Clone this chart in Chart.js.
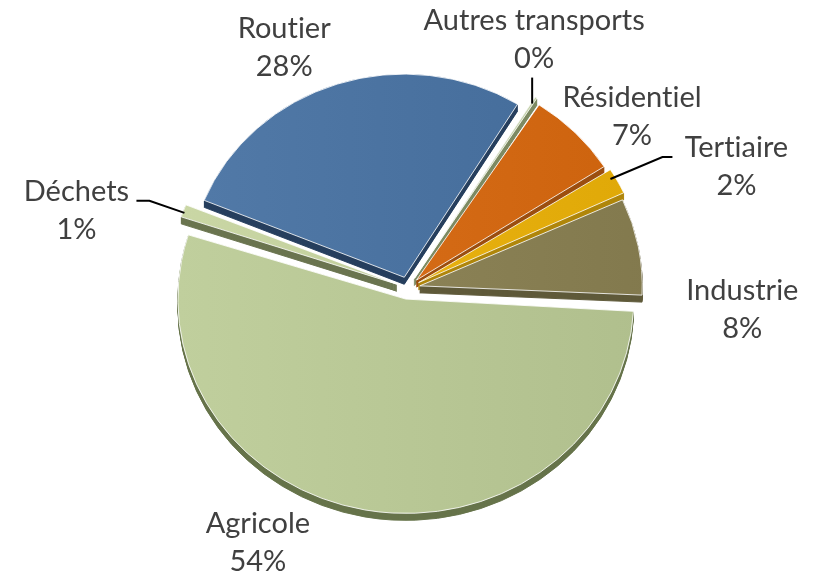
<!DOCTYPE html>
<html lang="fr">
<head>
<meta charset="utf-8">
<title>Répartition par secteur</title>
<script src="https://cdn.jsdelivr.net/npm/chart.js@4.4.1/dist/chart.umd.min.js"></script>
<style>
  html, body { margin: 0; padding: 0; background: #fff; }
  #wrap { width: 817px; height: 577px; position: relative; }
</style>
</head>
<body>
<div id="wrap"><canvas id="myChart"></canvas></div>
<script>
// data, clockwise from the top
const categories = ['Autres transports', 'Résidentiel', 'Tertiaire', 'Industrie', 'Agricole', 'Déchets', 'Routier'];
const shares = [0.4, 6.8, 2.2, 7.6, 54.2, 1.2, 27.6];

// styles
const topColors = ['#c6d4ab', '#d46a15', '#e7b00f', '#8a8155', '#b8c795', '#c2cf9d', '#4a72a0'];
const sideColors = ['#7d8a62', '#9c4e10', '#b0860b', '#5f5a3a', '#66744a', '#6a7550', '#263f5e'];
const TILT = 0.94;   // vertical squash of the tilted pie
const DEPTH = 7;     // thickness of the slices, px

// label placement relative to the outer middle of each slice
const labelLayout = [
  { dx: -2, dy: -68, leader: [[-4, 6], [-4, -20]] },
  { dx: 57, dy: -26 },
  { dx: 119, dy: -24, leader: [[-7, -2], [45, -24], [55, -24]] },
  { dx: 104, dy: 54 },
  { dx: -107, dy: 23 },
  { dx: -107, dy: -10, leader: [[1, 2], [-34, -10], [-47, -10]] },
  { dx: -53, dy: -46 }
];

function shade(hex, amt) {
  const n = parseInt(hex.slice(1), 16);
  const f = v => Math.max(0, Math.min(255, Math.round(v + amt)));
  return 'rgb(' + f(n >> 16) + ',' + f((n >> 8) & 255) + ',' + f(n & 255) + ')';
}

const total = shares.reduce((a, b) => a + b, 0);

const tiltPlugin = {
  id: 'tilt',
  beforeDatasetsDraw(chart) {
    const ctx = chart.ctx;
    const meta = chart.getDatasetMeta(0);
    const c = meta.data[0];
    ctx.save();
    ctx.translate(c.x, c.y);
    ctx.scale(1, TILT);
    ctx.translate(-c.x, -c.y);
    // sides of the slices, drawn under the tops
    meta.data.forEach((arc, i) => {
      const saved = arc.options;
      arc.options = Object.assign({}, saved, { backgroundColor: sideColors[i], borderColor: sideColors[i] });
      for (let d = DEPTH; d > 0; d--) {
        ctx.save();
        ctx.translate(0, d / TILT);
        arc.draw(ctx);
        ctx.restore();
      }
      arc.options = saved;
    });
  },
  afterDatasetsDraw(chart) {
    chart.ctx.restore();
  },
  afterDraw(chart) {
    const ctx = chart.ctx;
    const meta = chart.getDatasetMeta(0);
    ctx.save();
    ctx.font = '29px Lato';
    ctx.textRendering = 'optimizeSpeed';
    ctx.fillStyle = '#404040';
    ctx.textAlign = 'center';
    ctx.textBaseline = 'alphabetic';
    meta.data.forEach((arc, i) => {
      const p = arc.getProps(['x', 'y', 'startAngle', 'endAngle', 'outerRadius', 'circumference']);
      const o = (arc.options.offset || 0) / 4;
      const fix = 1 - Math.sin(Math.min(Math.PI, p.circumference));
      const r = p.outerRadius + o * fix + o;
      const mid = (p.startAngle + p.endAngle) / 2;
      const ax = p.x + Math.cos(mid) * r;
      const ay = p.y + Math.sin(mid) * r * TILT;
      const lay = labelLayout[i];
      if (lay.leader) {
        ctx.beginPath();
        ctx.strokeStyle = '#000';
        ctx.lineWidth = 2;
        lay.leader.forEach((pt, k) => {
          if (k === 0) ctx.moveTo(ax + pt[0], ay + pt[1]);
          else ctx.lineTo(ax + pt[0], ay + pt[1]);
        });
        ctx.stroke();
      }
      const pct = Math.round(shares[i] / total * 100) + '%';
      ctx.fillText(categories[i], ax + lay.dx, ay + lay.dy);
      ctx.fillText(pct, ax + lay.dx, ay + lay.dy + 38);
    });
    ctx.restore();
  }
};

const ctx = document.getElementById('myChart');

new Chart(ctx, {
  type: 'pie',
  data: {
    labels: categories,
    datasets: [{
      data: shares,
      backgroundColor: (c) => {
        const base = topColors[c.dataIndex];
        const g = c.chart.ctx.createLinearGradient(180, 0, 645, 0);
        g.addColorStop(0, shade(base, 8));
        g.addColorStop(1, shade(base, -8));
        return g;
      },
      borderColor: 'rgba(255,255,255,0.85)',
      borderWidth: 1,
      offset: 48,
      clip: false,
    }]
  },
  options: {
    rotation: 31.6,
    radius: 216,
    animation: false,
    events: [],
    layout: {
      padding: { left: 0, right: 1, top: 0, bottom: 1 }
    },
    plugins: {
      legend: { display: false },
      tooltip: { enabled: false }
    },
    responsive: true,
    maintainAspectRatio: false,
  },
  plugins: [tiltPlugin]
});
</script>
</body>
</html>
